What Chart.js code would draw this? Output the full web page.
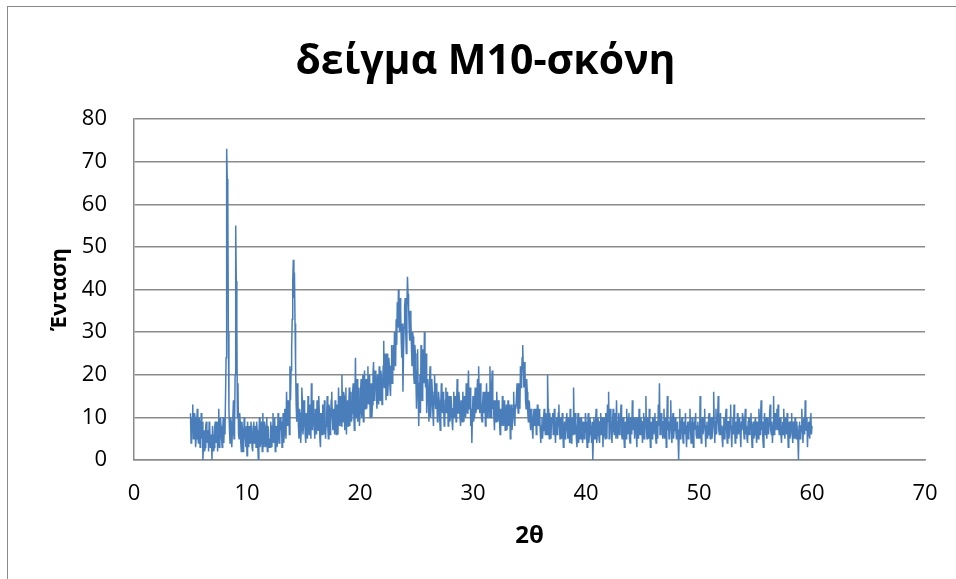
<!DOCTYPE html>
<html>
<head>
<meta charset="utf-8">
<script src="https://cdn.jsdelivr.net/npm/chart.js@4"></script>
<style>
  html, body { margin: 0; padding: 0; background: #fff; overflow: hidden; }
  #frame { position: absolute; left: 7px; top: 6px; width: 1100px; height: 700px;
           border: 1px solid #8a8a8a; box-sizing: border-box; }
  #wrap { position: absolute; left: 0; top: 0; width: 956px; height: 579px; }
</style>
</head>
<body>
<div id="frame"></div>
<div id="wrap"><canvas id="xrd" width="956" height="579"></canvas></div>
<script>
// Powder diffraction scan of sample M10, 2θ from 5° to 60°, read every 0.05°.
// Whole and half steps are kept in two tables, one row per degree of 2θ.
const thetaStart = 5;
const thetaStep = 0.1;

// Readings at 5.0°, 5.1°, 5.2° ... 60.0°
const intensity = [
  11, 6, 13, 7, 10, 5, 12, 4, 9, 6,        // 5
  5, 0, 7, 3, 9, 4, 2, 8, 5, 0,            // 6
  6, 3, 9, 5, 2, 12, 4, 8, 3, 10,          // 7
  9, 15, 73, 62, 12, 4, 9, 6, 14, 8,       // 8
  55, 31, 18, 5, 9, 2, 7, 4, 8, 3,         // 9
  1, 6, 8, 4, 7, 2, 9, 5, 3, 7,            // 10
  0, 10, 4, 6, 11, 3, 8, 5, 2, 7,          // 11
  5, 9, 3, 11, 6, 2, 8, 4, 10, 5,          // 12
  7, 3, 11, 6, 9, 16, 8, 12, 22, 21,       // 13
  33, 47, 44, 22, 9, 16, 5, 11, 7, 14,     // 14
  8, 12, 4, 10, 15, 6, 9, 18, 7, 11,       // 15
  5, 10, 14, 7, 11, 3, 9, 13, 6, 10,       // 16
  8, 15, 5, 12, 9, 16, 7, 11, 14, 6,       // 17
  10, 17, 8, 13, 20, 9, 15, 11, 6, 14,     // 18
  12, 8, 16, 11, 18, 7, 24, 13, 9, 17,     // 19
  11, 19, 14, 9, 21, 15, 12, 22, 16, 10,   // 20
  18, 13, 23, 15, 20, 12, 17, 22, 14, 19,  // 21
  16, 28, 20, 14, 25, 18, 22, 15, 27, 21,  // 22
  21, 26, 33, 37, 40, 30, 35, 24, 16, 31,  // 23
  38, 25, 43, 36, 28, 33, 22, 29, 18, 25,  // 24
  12, 26, 8, 20, 27, 14, 23, 30, 17, 11,   // 25
  19, 9, 22, 13, 16, 8, 20, 12, 15, 10,    // 26
  14, 7, 18, 11, 13, 9, 17, 12, 8, 15,     // 27
  10, 13, 7, 16, 12, 9, 19, 11, 14, 8,     // 28
  12, 16, 9, 14, 18, 11, 21, 13, 8, 4,     // 29
  15, 10, 17, 12, 19, 22, 11, 14, 9, 16,   // 30
  13, 8, 18, 11, 15, 22, 10, 21, 14, 7,    // 31
  12, 16, 9, 13, 6, 11, 15, 8, 12, 10,     // 32
  7, 14, 11, 5, 13, 9, 16, 8, 12, 18,      // 33
  11, 15, 22, 20, 27, 17, 21, 12, 16, 9,   // 34
  13, 7, 11, 5, 12, 9, 6, 13, 8, 11,       // 35
  4, 10, 7, 12, 6, 9, 20, 8, 11, 5,        // 36
  9, 6, 12, 4, 10, 7, 13, 5, 8, 11,        // 37
  3, 9, 6, 11, 5, 8, 12, 4, 10, 17,        // 38
  6, 9, 3, 11, 7, 5, 10, 4, 8, 6,          // 39
  9, 3, 11, 6, 8, 4, 0, 10, 5, 12,         // 40
  6, 9, 4, 11, 7, 3, 10, 5, 8, 13,         // 41
  16, 7, 10, 4, 12, 6, 9, 14, 5, 11,       // 42
  8, 13, 5, 10, 3, 9, 12, 6, 11, 4,        // 43
  9, 14, 7, 5, 10, 3, 8, 12, 6, 9,         // 44
  4, 11, 7, 15, 5, 9, 12, 3, 8, 10,        // 45
  6, 11, 4, 9, 13, 18, 7, 10, 5, 12,       // 46
  8, 3, 15, 9, 6, 14, 4, 11, 7, 10,        // 47
  5, 9, 0, 12, 6, 10, 4, 8, 11, 3,         // 48
  9, 6, 12, 4, 10, 3, 7, 11, 5, 9,         // 49
  8, 15, 4, 10, 7, 12, 3, 9, 6, 11,        // 50
  5, 10, 7, 16, 4, 12, 9, 15, 6, 11,       // 51
  8, 3, 10, 6, 12, 4, 9, 7, 13, 3,         // 52
  10, 13, 4, 8, 11, 6, 9, 3, 7, 10,        // 53
  5, 12, 8, 4, 10, 7, 11, 3, 9, 6,         // 54
  10, 4, 8, 12, 6, 14, 9, 3, 11, 7,        // 55
  5, 10, 8, 13, 6, 4, 15, 9, 7, 12,        // 56
  13, 6, 10, 4, 9, 12, 5, 8, 11, 3,        // 57
  9, 6, 11, 4, 8, 10, 5, 7, 0, 9,          // 58
  6, 12, 4, 10, 14, 7, 3, 9, 5, 11,        // 59
  8                                        // 60
];

// Readings at 5.05°, 5.15°, 5.25° ... 59.95°
const intensityHalf = [
  4, 10, 5, 11, 3, 9, 6, 10, 3, 11,        // 5
  9, 4, 2, 8, 5, 7, 9, 3, 6, 8,            // 6
  2, 8, 4, 9, 7, 3, 10, 5, 7, 4,           // 7
  6, 24, 66, 30, 7, 10, 3, 10, 5, 20,      // 8
  42, 10, 6, 11, 4, 9, 2, 10, 5, 8,        // 9
  9, 3, 4, 9, 3, 8, 4, 8, 9, 4,            // 10
  5, 3, 9, 2, 5, 9, 3, 10, 8, 3,           // 11
  3, 6, 8, 4, 10, 7, 3, 11, 4, 10,         // 12
  9, 7, 4, 12, 5, 10, 14, 6, 14, 26,       // 13
  42, 38, 32, 13, 18, 8, 12, 4, 17, 6,     // 14
  14, 6, 11, 5, 9, 13, 5, 10, 14, 8,       // 15
  12, 6, 8, 15, 5, 11, 6, 10, 14, 5,       // 16
  11, 8, 13, 6, 14, 10, 12, 6, 9, 13,      // 17
  6, 11, 15, 8, 12, 16, 7, 17, 12, 8,      // 18
  17, 14, 9, 16, 11, 15, 10, 19, 14, 8,    // 19
  16, 10, 20, 16, 12, 19, 17, 13, 20, 14,  // 20
  10, 20, 14, 21, 16, 20, 13, 16, 21, 13,  // 21
  22, 17, 25, 19, 15, 24, 17, 22, 18, 27,  // 22
  30, 22, 27, 31, 34, 38, 28, 32, 25, 36,  // 23
  30, 36, 39, 31, 35, 27, 30, 20, 27, 19,  // 24
  21, 15, 18, 11, 21, 26, 18, 22, 25, 16,  // 25
  14, 17, 10, 19, 11, 15, 14, 18, 9, 16,   // 26
  10, 13, 12, 16, 8, 14, 11, 16, 12, 9,    // 27
  15, 9, 12, 10, 15, 13, 11, 16, 10, 14,   // 28
  9, 11, 15, 10, 13, 16, 12, 17, 12, 11,   // 29
  9, 14, 11, 15, 12, 14, 18, 10, 13, 11,   // 30
  16, 13, 10, 16, 10, 14, 17, 12, 10, 14,  // 31
  9, 11, 14, 9, 12, 8, 10, 14, 7, 13,      // 32
  10, 8, 13, 9, 7, 12, 10, 13, 15, 13,     // 33
  18, 12, 17, 24, 21, 23, 14, 19, 11, 14,  // 34
  9, 12, 7, 10, 8, 12, 10, 9, 12, 7,       // 35
  8, 5, 10, 8, 11, 6, 12, 5, 8, 10,        // 36
  11, 9, 7, 9, 6, 11, 8, 10, 5, 7,         // 37
  7, 5, 10, 7, 10, 4, 8, 9, 6, 9,          // 38
  11, 5, 8, 4, 10, 8, 6, 9, 5, 11,         // 39
  6, 8, 4, 10, 6, 9, 5, 7, 9, 4,           // 40
  10, 5, 9, 6, 10, 8, 6, 11, 5, 9,         // 41
  5, 12, 6, 9, 7, 11, 5, 8, 9, 6,          // 42
  10, 6, 9, 6, 8, 5, 7, 10, 5, 10,         // 43
  6, 8, 10, 9, 6, 10, 5, 7, 10, 7,         // 44
  9, 5, 10, 7, 10, 5, 7, 9, 5, 8,          // 45
  10, 6, 9, 5, 8, 6, 11, 6, 9, 5,          // 46
  10, 8, 7, 5, 10, 7, 9, 5, 9, 7,          // 47
  8, 5, 7, 5, 9, 6, 9, 6, 6, 8,            // 48
  5, 9, 7, 8, 6, 9, 10, 6, 8, 5,           // 49
  5, 8, 9, 6, 10, 7, 8, 5, 10, 7,          // 50
  9, 5, 10, 8, 9, 6, 10, 7, 9, 6,          // 51
  5, 8, 5, 10, 7, 9, 5, 10, 6, 8,          // 52
  6, 8, 9, 5, 7, 10, 6, 9, 11, 7,          // 53
  9, 6, 5, 9, 6, 10, 6, 8, 5, 9,           // 54
  6, 9, 5, 8, 10, 7, 5, 8, 6, 10,          // 55
  9, 6, 11, 7, 9, 8, 6, 11, 10, 7,         // 56
  8, 9, 6, 8, 6, 7, 10, 6, 7, 8,           // 57
  5, 9, 6, 9, 5, 7, 9, 5, 8, 5,            // 58
  8, 7, 9, 6, 8, 10, 8, 6, 10, 6           // 59
];

// Axis ranges and labels
const xTicks = [0, 10, 20, 30, 40, 50, 60, 70];
const yTicks = [0, 10, 20, 30, 40, 50, 60, 70, 80];
const chartTitle = 'δείγμα M10-σκόνη';
const xTitle = '2θ';
const yTitle = 'Ένταση';

// Merge both tables into one scan ordered by angle
const points = intensity
  .map((v, i) => ({ x: +(thetaStart + i * thetaStep).toFixed(2), y: v }))
  .concat(intensityHalf.map((v, i) => ({ x: +(thetaStart + thetaStep / 2 + i * thetaStep).toFixed(2), y: v })))
  .sort((a, b) => a.x - b.x);

const gridGray = '#8b8b8b';
Chart.defaults.font.family = "'Open Sans', 'DejaVu Sans', sans-serif";
Chart.defaults.color = '#000';

new Chart(document.getElementById('xrd'), {
  type: 'scatter',
  data: {
    datasets: [{
      data: points,
      showLine: true,
      borderColor: '#4a7ebb',
      borderWidth: 1.5,
      pointRadius: 0,
      tension: 0
    }]
  },
  options: {
    responsive: false,
    animation: false,
    layout: { padding: { left: 46, right: 31, top: 0, bottom: 0 } },
    plugins: {
      legend: { display: false },
      tooltip: { enabled: false },
      title: {
        display: true,
        text: chartTitle,
        font: { size: 41, weight: 'bold' },
        padding: { top: 37.5, bottom: 32.3 }
      }
    },
    scales: {
      x: {
        type: 'linear',
        min: xTicks[0],
        max: xTicks[xTicks.length - 1],
        afterBuildTicks: s => { s.ticks = xTicks.map(v => ({ value: v })); },
        afterFit: s => { s.height = 119; s.paddingLeft = 0; s.paddingRight = 0; },
        grid: { display: false, drawTicks: false },
        border: { display: true, color: gridGray, width: 1.5 },
        ticks: { font: { size: 22 }, padding: 21, maxRotation: 0 },
        title: {
          display: true,
          text: xTitle,
          font: { size: 24, weight: 'bold' },
          padding: { top: 0, bottom: 28 }
        }
      },
      y: {
        type: 'linear',
        min: yTicks[0],
        max: yTicks[yTicks.length - 1],
        afterBuildTicks: s => { s.ticks = yTicks.map(v => ({ value: v })); },
        afterFit: s => { s.width = 88; },
        grid: { color: gridGray, lineWidth: 1.5, drawTicks: false },
        border: { display: true, color: gridGray, width: 1.5 },
        ticks: { font: { size: 22 }, padding: 27 },
        title: {
          display: true,
          text: yTitle,
          font: { size: 22, weight: 'bold' },
          padding: { top: 1, bottom: 0 }
        }
      }
    }
  }
});
</script>
</body>
</html>
